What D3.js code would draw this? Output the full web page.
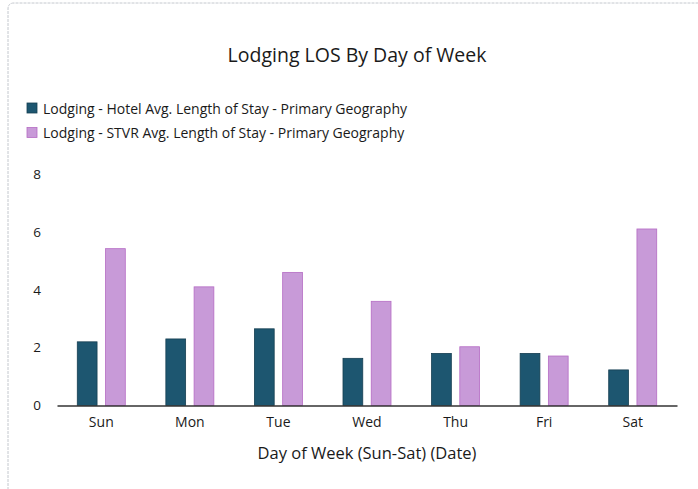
<!DOCTYPE html>
<html>
<head>
<meta charset="utf-8">
<script src="https://cdn.jsdelivr.net/npm/d3@7"></script>
<style>
  body { margin: 0; background: #fff; }
  text { font-family: "Open Sans", sans-serif; fill: #1a1a1a; }
</style>
</head>
<body>
<div id="chart"></div>
<script>
// data
const days = ['Sun', 'Mon', 'Tue', 'Wed', 'Thu', 'Fri', 'Sat'];
const hotelLOS = [2.2, 2.3, 2.65, 1.63, 1.8, 1.8, 1.23];
const stvrLOS = [5.42, 4.1, 4.6, 3.6, 2.03, 1.71, 6.1];
const seriesNames = [
  'Lodging - Hotel Avg. Length of Stay - Primary Geography',
  'Lodging - STVR Avg. Length of Stay - Primary Geography'
];
const yTicks = [0, 2, 4, 6, 8];

const width = 698;
const height = 489;
const colors = ['#1d5670', '#c89ad8'];
const edges = ['#163f52', '#b56cc4'];

const svg = d3.select('#chart')
  .append('svg')
  .attr('width', width)
  .attr('height', height);

// card border (faint, like the scan)
svg.append('path')
  .attr('d', 'M8,' + (height + 5) + ' L8,9 Q8,3 14,3 L' + (width + 5) + ',3')
  .attr('fill', 'none')
  .attr('stroke', '#c4c8ce')
  .attr('stroke-width', 1)
  .attr('stroke-dasharray', '3,1');

// title
svg.append('text')
  .attr('x', 357)
  .attr('y', 62)
  .attr('text-anchor', 'middle')
  .style('font-size', '19.5px')
  .text('Lodging LOS By Day of Week');

// legend
const legend = svg.selectAll('.legend')
  .data(seriesNames)
  .enter()
  .append('g')
  .attr('class', 'legend')
  .attr('transform', (d, i) => 'translate(27,' + (103 + i * 24.5) + ')');

legend.append('rect')
  .attr('width', 10)
  .attr('height', 10)
  .attr('fill', (d, i) => colors[i])
  .attr('stroke', (d, i) => edges[i])
  .attr('stroke-width', 0.8);

legend.append('text')
  .attr('x', 16)
  .attr('y', 10.5)
  .style('font-size', '14px')
  .text(d => d);

// scales
const margin = { left: 57, right: 21, top: 174, bottom: 84 };
const x0 = d3.scaleBand()
  .domain(days)
  .range([margin.left, width - margin.right])
  .paddingInner(0.458)
  .paddingOuter(0.229);

const x1 = d3.scaleBand()
  .domain([0, 1])
  .range([0, x0.bandwidth()])
  .paddingInner(0.3);

const y = d3.scaleLinear()
  .domain([0, 8])
  .range([height - margin.bottom + 0.5, margin.top]);

// bars
const groups = svg.selectAll('.day')
  .data(days)
  .enter()
  .append('g')
  .attr('class', 'day')
  .attr('transform', d => 'translate(' + x0(d) + ',0)');

groups.selectAll('rect')
  .data((d, i) => [hotelLOS[i], stvrLOS[i]])
  .enter()
  .append('rect')
  .attr('x', (d, j) => x1(j))
  .attr('y', d => y(d))
  .attr('width', x1.bandwidth())
  .attr('height', d => y(0) - y(d))
  .attr('fill', (d, j) => colors[j])
  .attr('stroke', (d, j) => edges[j])
  .attr('stroke-width', 0.8);

// y axis: labels only
const yAxis = svg.append('g')
  .attr('transform', 'translate(' + 41 + ',0)')
  .call(d3.axisLeft(y).tickValues(yTicks).tickSize(0).tickPadding(0));
yAxis.select('.domain').remove();
yAxis.selectAll('text')
  .style('font-family', '"Open Sans", sans-serif')
  .style('font-size', '13.5px')
  .attr('fill', '#1a1a1a');

// x axis
const xAxis = svg.append('g')
  .attr('transform', 'translate(0,' + y(0) + ')')
  .call(d3.axisBottom(x0).tickSize(0).tickPadding(12));
xAxis.select('.domain')
  .attr('stroke', '#333')
  .attr('stroke-width', 1.5);
xAxis.selectAll('text')
  .style('font-family', '"Open Sans", sans-serif')
  .style('font-size', '14px')
  .attr('fill', '#1a1a1a');

// x axis title
svg.append('text')
  .attr('x', 367)
  .attr('y', 459)
  .attr('text-anchor', 'middle')
  .style('font-size', '16.5px')
  .text('Day of Week (Sun-Sat) (Date)');
</script>
</body>
</html>
